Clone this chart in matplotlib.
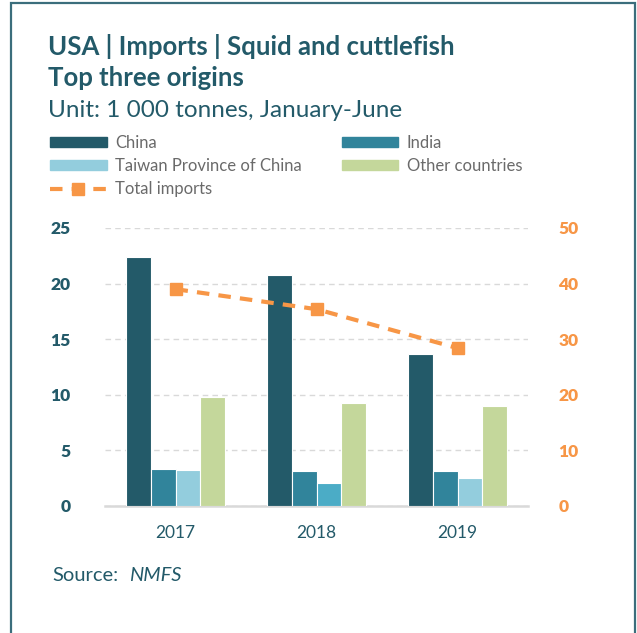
import numpy as np
import matplotlib
matplotlib.use("Agg")
from matplotlib import pyplot as plt
from matplotlib.patches import Rectangle
from matplotlib.lines import Line2D

plt.rcParams['font.family'] = ['Lato', 'DejaVu Sans']

years = ['2017', '2018', '2019']
china = [22.4, 20.8, 13.7]
india = [3.3, 3.15, 3.15]
taiwan = [3.2, 2.05, 2.5]
other = [9.8, 9.3, 8.95]
total = [39.0, 35.4, 28.4]
left_ticks = [0, 5, 10, 15, 20, 25]
right_ticks = [0, 10, 20, 30, 40, 50]

teal_dark = '#235a69'
c_china = '#235a69'
c_india = '#31849b'
c_taiwan = ['#93cddd', '#4bacc6', '#93cddd']
c_other = '#c4d79b'
orange = '#f79646'

fig = plt.figure(figsize=(6.37, 6.33), dpi=100)

# outer frame
fig.patches.append(Rectangle((10.5 / 637, -0.05), (635 - 10.5) / 637, 1.05 - 3.5 / 633,
                             transform=fig.transFigure, fill=False,
                             edgecolor='#3b6e7c', linewidth=1.6))

ax = fig.add_axes([105 / 637, 1 - 506 / 633, 423 / 637, 278 / 633])
ax2 = ax.twinx()

x = np.arange(len(years))
w = 0.174
series = [(china, c_china), (india, c_india), (taiwan, c_taiwan), (other, c_other)]
for i, (vals, col) in enumerate(series):
    ax.bar(x + (i - 1.5) * w, vals, width=w, color=col, edgecolor='white', linewidth=0.8, zorder=3)

ax2.plot(x, total, color=orange, linestyle=(0, (3, 2.2)), linewidth=3,
         marker='s', markersize=9, zorder=4)

ax.set_xlim(-0.5, 2.5)
ax.set_ylim(0, 25)
ax2.set_ylim(0, 50)
ax.set_xticks(x, years)
ax.set_yticks(left_ticks, [str(t) for t in left_ticks], fontweight='heavy')
ax2.set_yticks(right_ticks, [str(t) for t in right_ticks], fontweight='heavy')

ax.yaxis.grid(True, color='#d9d9d9', linestyle=(0, (4, 3)), linewidth=1, zorder=0)
ax.set_axisbelow(True)
for a in (ax, ax2):
    for s in a.spines.values():
        s.set_visible(False)
ax.spines['bottom'].set_visible(True)
ax.spines['bottom'].set_color('#d9d9d9')
ax.spines['bottom'].set_linewidth(1.8)

ax.tick_params(axis='y', length=0, pad=25, labelsize=12.5, labelcolor=teal_dark)
ax.tick_params(axis='x', length=0, pad=14, labelsize=12.5, labelcolor=teal_dark)
ax2.tick_params(axis='y', length=0, pad=22, labelsize=12.5, labelcolor=orange)

# titles
fig.text(48 / 637, 1 - 55 / 633, 'USA | Imports | Squid and cuttlefish',
         fontsize=18.5, fontweight='bold', color=teal_dark)
fig.text(48 / 637, 1 - 86 / 633, 'Top three origins',
         fontsize=18.5, fontweight='bold', color=teal_dark)
fig.text(48 / 637, 1 - 117 / 633, 'Unit: 1 000 tonnes, January-June',
         fontsize=17.5, color=teal_dark)

# legend
handles = [
    Rectangle((0, 0), 1, 1, color=c_china),
    Rectangle((0, 0), 1, 1, color=c_taiwan[0]),
    Line2D([], [], color=orange, linestyle=(0, (3, 2.2)), linewidth=3, marker='s', markersize=9),
    Rectangle((0, 0), 1, 1, color=c_india),
    Rectangle((0, 0), 1, 1, color=c_other),
    Rectangle((0, 0), 1, 1, alpha=0),
]
labels = ['China', 'Taiwan Province of China', 'Total imports', 'India', 'Other countries', '']
fig.legend(handles, labels, ncol=2, loc='upper left',
           bbox_to_anchor=(50 / 637, 1 - 135 / 633), frameon=False,
           fontsize=12, labelcolor='#6a6a6a', handlelength=3.4, handleheight=0.5,
           handletextpad=0.5, columnspacing=2.4, labelspacing=0.42, borderaxespad=0,
           borderpad=0)

fig.text(52 / 637, 1 - 581 / 633, 'Source:', fontsize=14.5, color=teal_dark)
fig.text(129 / 637, 1 - 581 / 633, 'NMFS', fontsize=14.5, color=teal_dark, style='italic')

fig.savefig('out.png', dpi=100)
